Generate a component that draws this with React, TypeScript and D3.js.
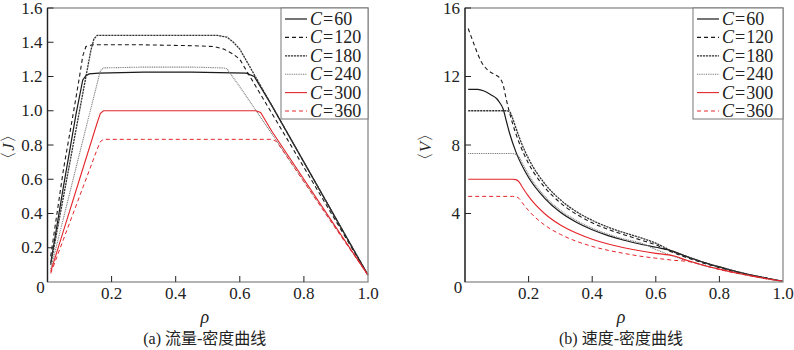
import * as d3 from 'd3';

// series keys and legend labels
const seriesKeys = ['60', '120', '180', '240', '300', '360'];

// (a) flow–density
const rhoJ60 = [0.01, 0.05, 0.09, 0.11, 0.12, 0.13, 0.16, 0.3, 0.45, 0.62, 0.645, 0.7, 0.8, 0.9, 1.0];
const j60 = [0.11, 0.56, 0.99, 1.18, 1.205, 1.215, 1.22, 1.225, 1.225, 1.22, 1.2, 1.03, 0.7, 0.37, 0.04];
const rhoJ120 = [0.01, 0.05, 0.08, 0.1, 0.11, 0.12, 0.14, 0.3, 0.45, 0.52, 0.55, 0.58, 0.6, 0.7, 0.8, 0.9, 1.0];
const j120 = [0.15, 0.66, 0.98, 1.2, 1.32, 1.375, 1.385, 1.385, 1.38, 1.375, 1.36, 1.33, 1.3, 0.985, 0.67, 0.355, 0.04];
const rhoJ180 = [0.01, 0.05, 0.1, 0.135, 0.145, 0.155, 0.3, 0.45, 0.53, 0.56, 0.58, 0.6, 0.7, 0.8, 0.9, 1.0];
const j180 = [0.1, 0.5, 1.0, 1.35, 1.42, 1.44, 1.44, 1.44, 1.44, 1.43, 1.4, 1.36, 1.03, 0.7, 0.37, 0.04];
const rhoJ240 = [0.01, 0.05, 0.1, 0.155, 0.165, 0.175, 0.3, 0.45, 0.55, 0.56, 0.6, 0.7, 0.8, 0.9, 1.0];
const j240 = [0.075, 0.375, 0.75, 1.16, 1.235, 1.25, 1.255, 1.255, 1.25, 1.245, 1.14, 0.865, 0.59, 0.315, 0.04];
const rhoJ300 = [0.01, 0.05, 0.1, 0.155, 0.165, 0.175, 0.3, 0.5, 0.65, 0.665, 0.7, 0.8, 0.9, 1.0];
const j300 = [0.06, 0.3, 0.6, 0.93, 0.985, 1.0, 1.0, 1.0, 1.0, 0.99, 0.88, 0.6, 0.32, 0.04];
const rhoJ360 = [0.01, 0.05, 0.1, 0.155, 0.165, 0.175, 0.3, 0.5, 0.7, 0.715, 0.8, 0.9, 1.0];
const j360 = [0.05, 0.25, 0.5, 0.775, 0.82, 0.833, 0.833, 0.833, 0.833, 0.82, 0.585, 0.31, 0.04];

// (b) speed–density
const rhoV60 = [0.01, 0.04, 0.06, 0.08, 0.1, 0.11, 0.12, 0.13, 0.14, 0.16, 0.2, 0.25, 0.3, 0.35, 0.4, 0.45, 0.5, 0.55, 0.6, 0.64, 0.7, 0.75, 0.8, 0.85, 0.9, 0.95, 1.0];
const v60 = [11.25, 11.25, 11.15, 10.95, 10.7, 10.45, 10.1, 9.4, 8.7, 7.6, 6.1, 4.9, 4.07, 3.49, 3.05, 2.71, 2.44, 2.22, 2.03, 1.88, 1.47, 1.15, 0.88, 0.63, 0.41, 0.22, 0.04];
const rhoV120 = [0.01, 0.02, 0.03, 0.05, 0.07, 0.09, 0.11, 0.12, 0.13, 0.15, 0.17, 0.2, 0.25, 0.3, 0.35, 0.4, 0.45, 0.5, 0.55, 0.6, 0.65, 0.7, 0.75, 0.8, 0.85, 0.9, 0.95, 1.0];
const v120 = [14.8, 14.3, 13.8, 12.9, 12.4, 12.15, 11.9, 11.5, 10.65, 9.23, 8.15, 6.92, 5.54, 4.62, 3.96, 3.46, 3.07, 2.76, 2.47, 2.17, 1.75, 1.41, 1.1, 0.84, 0.6, 0.39, 0.21, 0.04];
const rhoV180 = [0.01, 0.05, 0.1, 0.13, 0.14, 0.15, 0.16, 0.18, 0.2, 0.25, 0.3, 0.35, 0.4, 0.45, 0.5, 0.55, 0.58, 0.6, 0.65, 0.7, 0.75, 0.8, 0.85, 0.9, 0.95, 1.0];
const v180 = [10, 10, 10, 10, 9.95, 9.55, 9.0, 8.0, 7.2, 5.76, 4.8, 4.11, 3.6, 3.2, 2.88, 2.6, 2.41, 2.27, 1.81, 1.47, 1.15, 0.88, 0.63, 0.41, 0.22, 0.04];
const rhoV240 = [0.01, 0.05, 0.1, 0.15, 0.16, 0.17, 0.18, 0.2, 0.25, 0.3, 0.35, 0.4, 0.45, 0.5, 0.56, 0.6, 0.65, 0.7, 0.75, 0.8, 0.85, 0.9, 0.95, 1.0];
const v240 = [7.5, 7.5, 7.5, 7.5, 7.45, 7.3, 6.95, 6.27, 5.02, 4.18, 3.59, 3.14, 2.79, 2.51, 2.23, 1.9, 1.54, 1.24, 0.97, 0.74, 0.53, 0.35, 0.18, 0.04];
const rhoV300 = [0.01, 0.05, 0.1, 0.15, 0.16, 0.17, 0.18, 0.2, 0.25, 0.3, 0.35, 0.4, 0.45, 0.5, 0.55, 0.6, 0.655, 0.7, 0.75, 0.8, 0.85, 0.9, 0.95, 1.0];
const v300 = [6, 6, 6, 6, 5.98, 5.85, 5.55, 5.0, 4.0, 3.33, 2.86, 2.5, 2.22, 2.0, 1.82, 1.67, 1.53, 1.25, 0.98, 0.75, 0.54, 0.36, 0.19, 0.04];
const rhoV360 = [0.01, 0.05, 0.1, 0.15, 0.16, 0.17, 0.18, 0.2, 0.25, 0.3, 0.35, 0.4, 0.45, 0.5, 0.55, 0.6, 0.65, 0.71, 0.75, 0.8, 0.85, 0.9, 0.95, 1.0];
const v360 = [5, 5, 5, 5, 4.98, 4.88, 4.63, 4.17, 3.33, 2.78, 2.38, 2.08, 1.85, 1.67, 1.51, 1.39, 1.28, 1.17, 0.97, 0.73, 0.53, 0.35, 0.18, 0.04];

const xTicks = [0.2, 0.4, 0.6, 0.8, 1.0];
const jTicks = [0.2, 0.4, 0.6, 0.8, 1.0, 1.2, 1.4, 1.6];
const vTicks = [4, 8, 12, 16];

const RED = '#e4262b';
const styles: Record<string, { color: string; dash: string; width: number }> = {
  '60': { color: '#1a1a1a', dash: '', width: 1.2 },
  '120': { color: '#1a1a1a', dash: '4,3', width: 1.1 },
  '180': { color: '#333', dash: '2.2,0.8', width: 1.3 },
  '240': { color: '#7a7a7a', dash: '1,0.8', width: 1.1 },
  '300': { color: RED, dash: '', width: 1.1 },
  '360': { color: RED, dash: '4,3', width: 1.0 },
};

const jSeries: [number[], number[]][] = [
  [rhoJ60, j60], [rhoJ120, j120], [rhoJ180, j180], [rhoJ240, j240], [rhoJ300, j300], [rhoJ360, j360],
];
const vSeries: [number[], number[]][] = [
  [rhoV60, v60], [rhoV120, v120], [rhoV180, v180], [rhoV240, v240], [rhoV300, v300], [rhoV360, v360],
];

const FONT = 'Liberation Serif, Tinos, DejaVu Serif, serif';
const CJK = 'Liberation Serif, Noto Sans CJK SC, serif';

const TOP = 8;
const BOTTOM = 282;

function Panel({ x0, x1, yMax, ticks, series, curve, fmt, yLabel, caption, legendLeft }: {
  x0: number; x1: number; yMax: number; ticks: number[]; series: [number[], number[]][];
  curve: d3.CurveFactory; fmt: (v: number) => string; yLabel: string; caption: string; legendLeft: number;
}) {
  const x = d3.scaleLinear().domain([0, 1]).range([x0, x1]);
  const y = d3.scaleLinear().domain([0, yMax]).range([BOTTOM, TOP]);
  const line = d3.line<[number, number]>().x(d => x(d[0])).y(d => y(d[1])).curve(curve);
  const mid = (x0 + x1) / 2 - 3;
  const rowH = 18.4;
  const txt = { fontFamily: FONT, fill: '#222' };

  return (
    <g>
      {series.map(([r, v], i) => {
        const s = styles[seriesKeys[i]];
        const pts = r.map((rr, k) => [rr, v[k]] as [number, number]);
        return (
          <path key={i} d={line(pts) ?? ''} fill="none" stroke={s.color}
            strokeWidth={s.width} strokeDasharray={s.dash || undefined} />
        );
      })}
      {/* frame */}
      <rect x={x0} y={TOP} width={x1 - x0} height={BOTTOM - TOP} fill="none" stroke="#8a8a8a" strokeWidth={1.3} />
      <line x1={x0} x2={x0} y1={TOP} y2={BOTTOM} stroke="#222" strokeWidth={1.3} />
      {/* y ticks */}
      {ticks.map(t => (
        <g key={t}>
          <line x1={x0} x2={x0 + 6} y1={y(t)} y2={y(t)} stroke="#222" strokeWidth={1} />
          <text x={x0 - 5} y={y(t) + 5.5} textAnchor="end" style={{ ...txt, fontSize: 17 }}>{fmt(t)}</text>
        </g>
      ))}
      {/* x ticks */}
      {xTicks.map(t => (
        <g key={t}>
          {t < 1 && <line x1={x(t)} x2={x(t)} y1={BOTTOM} y2={BOTTOM - 6} stroke="#222" strokeWidth={1} />}
          <text x={x(t)} y={BOTTOM + 17} textAnchor="middle" style={{ ...txt, fontSize: 17 }}>{t.toFixed(1)}</text>
        </g>
      ))}
      <text x={x0 - 7} y={BOTTOM + 11} textAnchor="middle" style={{ ...txt, fontSize: 17 }}>0</text>
      {/* labels */}
      <text transform={`translate(${x0 - 34},${(TOP + BOTTOM) / 2 + 2}) rotate(-90)`} textAnchor="middle"
        style={{ ...txt, fontSize: 17 }}>
        〈<tspan fontStyle="italic">{yLabel}</tspan>〉
      </text>
      <text x={mid} y={323} textAnchor="middle" style={{ ...txt, fontSize: 18, fontStyle: 'italic' }}>ρ</text>
      <text x={mid} y={344} textAnchor="middle" style={{ fontFamily: CJK, fill: '#222', fontSize: 16 }}>{caption}</text>
      {/* legend */}
      <rect x={legendLeft} y={TOP} width={x1 - legendLeft} height={111} fill="white" stroke="#777" strokeWidth={1} />
      {seriesKeys.map((k, i) => {
        const s = styles[k];
        const ly = TOP + 11 + i * rowH;
        return (
          <g key={k}>
            <line x1={legendLeft + 4} x2={legendLeft + 26} y1={ly} y2={ly} stroke={s.color}
              strokeWidth={s.width} strokeDasharray={s.dash || undefined} />
            <text x={legendLeft + 29} y={ly + 6} style={{ ...txt, fontSize: 18 }}>
              <tspan fontStyle="italic">C</tspan>
              <tspan dx={1}>=</tspan>
              <tspan dx={1}>{k}</tspan>
            </text>
          </g>
        );
      })}
    </g>
  );
}

export default function App() {
  return (
    <svg width={794} height={350} viewBox="0 0 794 350"
      style={{ position: 'absolute', left: 0, top: 0, background: 'white' }}>
      <Panel x0={47.5} x1={368} yMax={1.6} ticks={jTicks} series={jSeries} curve={d3.curveLinear}
        fmt={v => v.toFixed(1)} yLabel="J" caption="(a) 流量-密度曲线" legendLeft={281} />
      <Panel x0={465} x1={783} yMax={16} ticks={vTicks} series={vSeries} curve={d3.curveMonotoneX}
        fmt={v => String(v)} yLabel="V" caption="(b) 速度-密度曲线" legendLeft={693} />
    </svg>
  );
}
